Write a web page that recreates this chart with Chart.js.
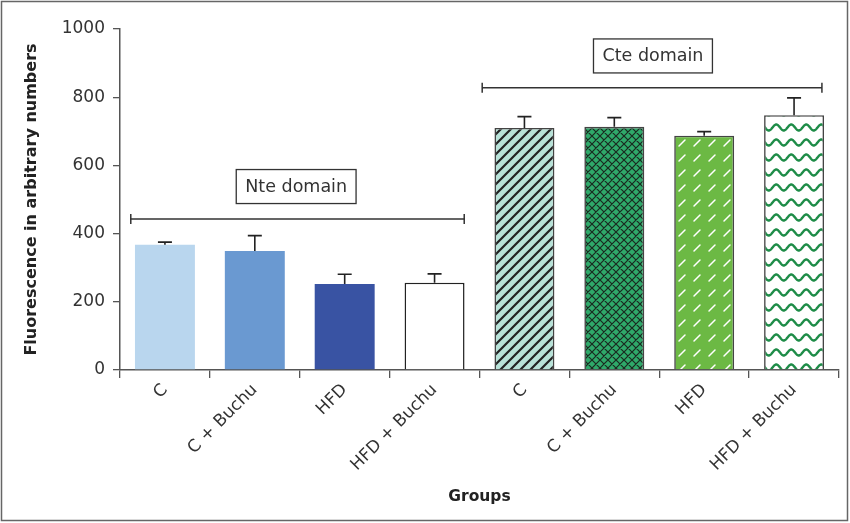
<!DOCTYPE html>
<html>
<head>
<meta charset="utf-8">
<script src="https://cdn.jsdelivr.net/npm/chart.js@4"></script>
<style>
  html, body { margin: 0; padding: 0; background: #fff; }
  #c { display: block; }
</style>
</head>
<body>
<canvas id="c" width="850" height="523"></canvas>
<script>
// ---- Data ----
const categories = ['C', 'C + Buchu', 'HFD', 'HFD + Buchu', 'C', 'C + Buchu', 'HFD', 'HFD + Buchu'];
const values = [367, 349, 252, 256, 710, 713, 687, 747];
const errors = [8, 45, 29, 26, 33, 27, 12, 51];
const yTicks = [0, 200, 400, 600, 800, 1000];
const domainLabels = ['Nte domain', 'Cte domain'];
const domainFirstBar = [0, 4];
const domainLastBar = [3, 7];
const domainLineValue = [443, 828];
const domainBoxValue = [538, 921];

const FONT = "'DejaVu Sans', sans-serif";

// ---- Patterns ----
function makeTile(w, h, bg, drawFn) {
  const c = document.createElement('canvas');
  c.width = w; c.height = h;
  const g = c.getContext('2d');
  g.fillStyle = bg; g.fillRect(0, 0, w, h);
  drawFn(g);
  return document.getElementById('c').getContext('2d').createPattern(c, 'repeat');
}
const diagPattern = makeTile(10, 10, '#b8e2d8', g => {
  g.strokeStyle = '#222'; g.lineWidth = 2.2; g.lineCap = 'square';
  g.beginPath();
  g.moveTo(-2, 12); g.lineTo(12, -2);
  g.moveTo(-2, 2); g.lineTo(2, -2);
  g.moveTo(8, 12); g.lineTo(12, 8);
  g.stroke();
});
const crossPattern = makeTile(8, 8, '#2fa96a', g => {
  g.strokeStyle = '#1a2a20'; g.lineWidth = 1.2;
  g.beginPath();
  g.moveTo(0, 8); g.lineTo(8, 0);
  g.moveTo(0, 0); g.lineTo(8, 8);
  g.moveTo(-1, 1); g.lineTo(1, -1);
  g.moveTo(7, 9); g.lineTo(9, 7);
  g.stroke();
});
const dashPattern = makeTile(15, 15, '#6cb944', g => {
  g.strokeStyle = '#ffffff'; g.lineWidth = 1.5; g.lineCap = 'round';
  g.beginPath();
  g.moveTo(4, 11); g.lineTo(10, 5);
  g.stroke();
});
const wavePattern = makeTile(15, 15, '#ffffff', g => {
  g.strokeStyle = '#1e8c48'; g.lineWidth = 2.4;
  g.beginPath();
  for (let x = -1; x <= 16; x += 0.5) {
    const y = 7.5 + 3 * Math.sin((x / 15) * Math.PI * 2);
    if (x === -1) g.moveTo(x, y); else g.lineTo(x, y);
  }
  g.stroke();
});

const fills = ['#b9d6ee', '#6a99d1', '#3953a3', '#ffffff', diagPattern, crossPattern, dashPattern, wavePattern];
const borderColors = ['#b9d6ee', '#6a99d1', '#3953a3', '#222', '#444', '#444', '#444', '#444'];
const borderWidths = [0, 0, 0, 1.5, 1.6, 1.6, 1.6, 1.6];

// ---- Plugins ----
const errorBars = {
  id: 'errorBars',
  afterDatasetsDraw(chart) {
    const ctx = chart.ctx, ys = chart.scales.y;
    const meta = chart.getDatasetMeta(0);
    ctx.save();
    ctx.strokeStyle = '#222'; ctx.lineWidth = 1.6;
    meta.data.forEach((bar, i) => {
      const x = bar.x;
      const y0 = ys.getPixelForValue(values[i]);
      const y1 = ys.getPixelForValue(values[i] + errors[i]);
      ctx.beginPath();
      ctx.moveTo(x, y0); ctx.lineTo(x, y1);
      ctx.moveTo(x - 7, y1); ctx.lineTo(x + 7, y1);
      ctx.stroke();
    });
    ctx.restore();
  }
};

const domains = {
  id: 'domains',
  afterDraw(chart) {
    const ctx = chart.ctx, xs = chart.scales.x, ys = chart.scales.y;
    const cat = xs.getPixelForValue(1) - xs.getPixelForValue(0);
    ctx.save();
    ctx.strokeStyle = '#333'; ctx.lineWidth = 1.5;
    domainLabels.forEach((lab, k) => {
      const x0 = xs.getPixelForValue(domainFirstBar[k]) - (k === 0 ? 0.38 : 0.47) * cat;
      const x1 = xs.getPixelForValue(domainLastBar[k]) + (k === 0 ? 0.33 : 0.31) * cat;
      const yl = ys.getPixelForValue(domainLineValue[k]);
      ctx.beginPath();
      ctx.moveTo(x0, yl); ctx.lineTo(x1, yl);
      ctx.moveTo(x0, yl - 5); ctx.lineTo(x0, yl + 5);
      ctx.moveTo(x1, yl - 5); ctx.lineTo(x1, yl + 5);
      ctx.stroke();
      // label box
      ctx.font = '17.5px ' + FONT;
      const tw = ctx.measureText(lab).width;
      const cx = (xs.getPixelForValue(domainFirstBar[k]) + xs.getPixelForValue(domainLastBar[k])) / 2 + (k === 0 ? -0.04 : -0.07) * cat;
      const cy = ys.getPixelForValue(domainBoxValue[k]);
      const bw = tw + 18, bh = 34;
      ctx.fillStyle = '#fff';
      ctx.fillRect(cx - bw / 2, cy - bh / 2, bw, bh);
      ctx.lineWidth = 1.3; ctx.strokeStyle = '#333';
      ctx.strokeRect(cx - bw / 2, cy - bh / 2, bw, bh);
      ctx.fillStyle = '#333';
      ctx.textAlign = 'center'; ctx.textBaseline = 'middle';
      ctx.fillText(lab, cx, cy + 1);
      ctx.lineWidth = 1.5;
    });
    // outer frame
    ctx.strokeStyle = '#666'; ctx.lineWidth = 1.5;
    ctx.strokeRect(1.5, 1.5, 846, 519);
    ctx.restore();
  }
};

const whiteBg = {
  id: 'whiteBg',
  beforeDraw(chart) {
    const ctx = chart.ctx;
    ctx.save(); ctx.fillStyle = '#fff';
    ctx.fillRect(0, 0, chart.width, chart.height);
    ctx.restore();
  }
};

new Chart(document.getElementById('c'), {
  type: 'bar',
  data: {
    labels: categories,
    datasets: [{
      data: values,
      backgroundColor: fills,
      borderColor: borderColors,
      borderWidth: borderWidths,
      categoryPercentage: 1.0,
      barPercentage: 0.667
    }]
  },
  options: {
    responsive: false,
    animation: false,
    devicePixelRatio: 1,
    layout: { padding: { left: 18, right: 11, top: 29, bottom: 13 } },
    plugins: { legend: { display: false }, tooltip: { enabled: false } },
    scales: {
      x: {
        offset: true,
        grid: { display: true, drawOnChartArea: false, drawTicks: true, tickLength: 8, offset: true, color: '#555', lineWidth: 1.3 },
        border: { display: true, color: '#555', width: 1.5 },
        ticks: { autoSkip: false, minRotation: 45, maxRotation: 45, padding: 2, color: '#333', font: { family: FONT, size: 17 } },
        title: { display: true, text: 'Groups', color: '#222', font: { family: FONT, size: 15.5, weight: 'bold' }, padding: { top: 4, bottom: 4 } },
        afterFit(s) { s.height = 140; }
      },
      y: {
        min: 0, max: 1000,
        afterBuildTicks(s) { s.ticks = yTicks.map(v => ({ value: v })); },
        grid: { display: true, drawOnChartArea: false, drawTicks: true, tickLength: 7, color: '#555', lineWidth: 1.3 },
        border: { display: true, color: '#555', width: 1.5 },
        ticks: { padding: 8, color: '#333', font: { family: FONT, size: 17 }, callback: v => String(v) },
        title: { display: true, text: 'Fluorescence in arbitrary numbers', color: '#222', font: { family: FONT, size: 16, weight: 'bold' }, padding: { top: 4, bottom: 4 } },
        afterFit(s) { s.width = 102; }
      }
    }
  },
  plugins: [whiteBg, errorBars, domains]
});
</script>
</body>
</html>
